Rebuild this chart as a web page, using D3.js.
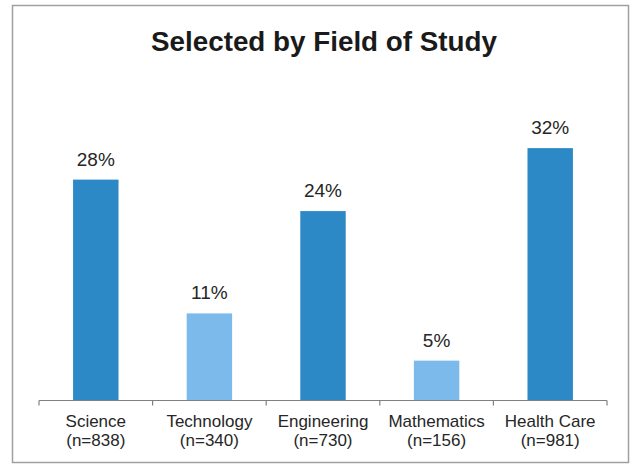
<!DOCTYPE html>
<html>
<head>
<meta charset="utf-8">
<script src="https://cdn.jsdelivr.net/npm/d3@7"></script>
<style>
  html, body { margin: 0; padding: 0; background: #fff; }
  svg { display: block; }
</style>
</head>
<body>
<svg id="chart" width="634" height="465"></svg>
<script>
// Share of respondents selecting each field of study
const categories = ["Science", "Technology", "Engineering", "Mathematics", "Health Care"];
const sampleSizes = ["(n=838)", "(n=340)", "(n=730)", "(n=156)", "(n=981)"];
const percentages = [28, 11, 24, 5, 32];
const barTone = ["dark", "light", "dark", "light", "dark"];

const colors = { dark: "#2d89c5", light: "#7bbaea" };

const svg = d3.select("#chart");
const font = "'Liberation Sans', Arial, sans-serif";

// Outer frame
svg.append("rect")
  .attr("x", 12.5).attr("y", 5.5)
  .attr("width", 616).attr("height", 457)
  .attr("fill", "#fff")
  .attr("stroke", "#a0a0a0")
  .attr("stroke-width", 1.5);

// Title
svg.append("text")
  .attr("x", 324).attr("y", 51)
  .attr("text-anchor", "middle")
  .attr("font-family", font)
  .attr("font-weight", "bold")
  .attr("font-size", 27)
  .attr("textLength", 346)
  .attr("lengthAdjust", "spacingAndGlyphs")
  .attr("fill", "#1a1a1a")
  .text("Selected by Field of Study");

const baseY = 400;
const x0 = 39, x1 = 607;
const x = d3.scaleBand().domain(categories).range([x0, x1]).paddingInner(0.6).paddingOuter(0.3);
const y = d3.scaleLinear().domain([0, 35]).range([baseY, baseY - 275.5]);

const data = categories.map((c, i) => ({ c, n: sampleSizes[i], v: percentages[i], tone: barTone[i] }));

// Bars
svg.append("g").selectAll("rect")
  .data(data).join("rect")
  .attr("x", d => x(d.c))
  .attr("y", d => y(d.v))
  .attr("width", x.bandwidth())
  .attr("height", d => y(0) - y(d.v))
  .attr("fill", d => colors[d.tone]);

// Value labels
svg.append("g").selectAll("text")
  .data(data).join("text")
  .attr("x", d => x(d.c) + x.bandwidth() / 2)
  .attr("y", d => y(d.v) - 14)
  .attr("text-anchor", "middle")
  .attr("font-family", font)
  .attr("font-size", 19)
  .attr("fill", "#262626")
  .text(d => d.v + "%");

// Category axis with tick marks at band boundaries
const edges = d3.range(categories.length + 1).map(i => x0 + i * ((x1 - x0) / categories.length));
const axis = svg.append("g").attr("stroke", "#808080").attr("stroke-width", 1.2);
axis.append("line")
  .attr("x1", edges[0]).attr("x2", edges[edges.length - 1])
  .attr("y1", baseY + 0.5).attr("y2", baseY + 0.5);
axis.selectAll("line.tick")
  .data(edges).join("line")
  .attr("class", "tick")
  .attr("x1", d => d).attr("x2", d => d)
  .attr("y1", baseY + 0.5).attr("y2", baseY + 5.5);

// Category labels (two lines)
const labels = svg.append("g").selectAll("text")
  .data(data).join("text")
  .attr("text-anchor", "middle")
  .attr("font-family", font)
  .attr("font-size", 17)
  .attr("fill", "#262626");
labels.append("tspan")
  .attr("x", d => x(d.c) + x.bandwidth() / 2)
  .attr("y", 427)
  .text(d => d.c);
labels.append("tspan")
  .attr("x", d => x(d.c) + x.bandwidth() / 2)
  .attr("y", 445.5)
  .text(d => d.n);
</script>
</body>
</html>
